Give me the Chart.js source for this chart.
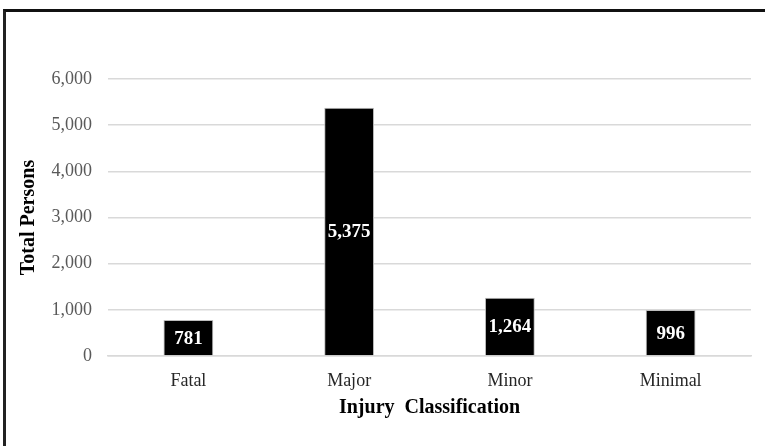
<!DOCTYPE html>
<html>
<head>
<meta charset="utf-8">
<script src="https://cdn.jsdelivr.net/npm/chart.js@4/dist/chart.umd.min.js"></script>
<style>
  html, body { margin: 0; padding: 0; background: #fff; }
  #wrap { position: relative; width: 765px; height: 446px; overflow: hidden; }
  #frame {
    position: absolute; left: 3px; top: 9px; right: -10px; bottom: -10px;
    border-top: 3px solid #111; border-left: 3px solid #222;
    pointer-events: none;
  }
  canvas { position: absolute; left: 0; top: 0; }
</style>
</head>
<body>
<div id="wrap">
  <canvas id="injuryChart" width="765" height="446"></canvas>
  <div id="frame"></div>
</div>
<script>
const categories = ['Fatal', 'Major', 'Minor', 'Minimal'];
const totalPersons = [781, 5375, 1264, 996];
const yTicks = [0, 1000, 2000, 3000, 4000, 5000, 6000];

const serif = '"Liberation Serif", "Times New Roman", serif';

// writes the value in the middle of each bar
const barValues = {
    id: 'barValues',
    afterDatasetsDraw(chart) {
        const ctx = chart.ctx;
        const meta = chart.getDatasetMeta(0);
        ctx.save();
        ctx.fillStyle = '#fff';
        ctx.font = 'bold 19px ' + serif;
        ctx.textAlign = 'center';
        ctx.textBaseline = 'middle';
        meta.data.forEach(function(bar, i) {
            const v = chart.data.datasets[0].data[i];
            ctx.fillText(v.toLocaleString('en-US'), bar.x, (bar.y + bar.base) / 2 + 1);
        });
        ctx.restore();
    }
};

new Chart(document.getElementById('injuryChart').getContext('2d'), {
    type: 'bar',
    data: {
        labels: categories,
        datasets: [{
            data: totalPersons,
            backgroundColor: '#000',
            borderColor: '#bdbdbd',
            borderWidth: { left: 1, right: 1, top: 1, bottom: 0 },
            barPercentage: 0.31,
            categoryPercentage: 1
        }]
    },
    options: {
        responsive: false,
        animation: false,
        layout: { padding: { left: 0, top: 79, right: 14, bottom: 0 } },
        plugins: {
            legend: { display: false },
            tooltip: { enabled: false }
        },
        scales: {
            x: {
                afterFit(scale) { scale.height = 90; },
                grid: { display: false },
                border: { display: true, color: '#d9d9d9', width: 1.5 },
                ticks: { color: '#262626', padding: 6, font: { family: serif, size: 18 } },
                title: {
                    display: true,
                    text: 'Injury  Classification',
                    color: '#000',
                    padding: { top: 0, bottom: 26 },
                    font: { family: serif, size: 20, weight: 'bold' }
                }
            },
            y: {
                min: 0,
                max: 6000,
                afterFit(scale) { scale.width = 108; },
                afterBuildTicks(scale) { scale.ticks = yTicks.map(v => ({ value: v })); },
                grid: { color: '#d9d9d9', lineWidth: 1.5, drawTicks: false },
                border: { display: false },
                ticks: {
                    color: '#595959',
                    padding: 16,
                    font: { family: serif, size: 18 },
                    callback: v => v.toLocaleString('en-US')
                },
                title: {
                    display: true,
                    text: 'Total Persons',
                    color: '#000',
                    padding: { top: 17, bottom: 0 },
                    font: { family: serif, size: 20, weight: 'bold' }
                }
            }
        }
    },
    plugins: [barValues]
});
</script>
</body>
</html>
